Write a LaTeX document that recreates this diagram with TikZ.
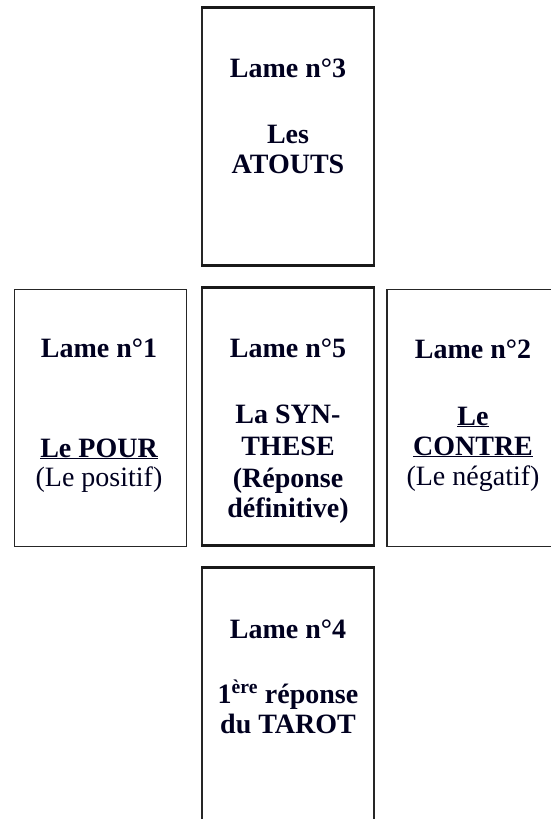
\documentclass[tikz,border=0pt]{standalone}
\usepackage{fontspec}
\setmainfont{Liberation Serif}
\begin{document}
\begin{tikzpicture}[x=1pt,y=-1pt,
  card/.style={draw=black!85, line width=1.6pt, minimum width=172pt, minimum height=257pt, inner sep=0pt},
  edge/.style={black!90, line width=3pt},
  txt/.style={anchor=base, inner sep=0pt, font=\fontsize{28}{30}\selectfont\bfseries, text=black!88!blue},
  rtxt/.style={anchor=base, inner sep=0pt, font=\fontsize{28}{30}\selectfont, text=black!88!blue}]
\useasboundingbox (0,0) rectangle (550,819);
% cards
\node[card] (c3) at (288,136.5) {};
\node[card] (c1) at (100.5,418) {};
\node[card] (c5) at (288,416.5) {};
\node[card] (c2) at (473,418) {};
\node[card] (c4) at (288,696.5) {};
% thicker top/bottom edges
\draw[edge] (c3.north west) -- (c3.north east);
\draw[edge] (c3.south west) -- (c3.south east);
\draw[edge] (c5.north west) -- (c5.north east);
\draw[edge] (c5.south west) -- (c5.south east);
\draw[edge] (c4.north west) -- (c4.north east);
% top card
\node[txt] (t3a) at (288,77) {Lame n°3};
\node[txt] (t3b) at (288,143) {Les};
\node[txt] (t3c) at (288,173) {ATOUTS};
% left card
\node[txt] (t1a) at (99,357) {Lame n°1};
\node[txt] (t1b) at (99,457) {\underline{Le POUR}};
\node[rtxt] (t1c) at (99,486) {(Le positif)};
% middle card
\node[txt] (t5a) at (288,357) {Lame n°5};
\node[txt] (t5b) at (288,423) {La SYN-};
\node[txt] (t5c) at (288,455) {THESE};
\node[txt] (t5d) at (288,487) {(Réponse};
\node[txt] (t5e) at (288,517) {définitive)};
% right card
\node[txt] (t2a) at (473,358) {Lame n°2};
\node[txt] (t2b) at (473,425) {\underline{Le}};
\node[txt] (t2c) at (473,455) {\underline{CONTRE}};
\node[rtxt] (t2d) at (473,485) {(Le négatif)};
% bottom card
\node[txt] (t4a) at (288,638) {Lame n°4};
\node[txt] (t4b) at (288,703) {1\textsuperscript{ère} réponse};
\node[txt] (t4c) at (288,733) {du TAROT};
\end{tikzpicture}
\end{document}
